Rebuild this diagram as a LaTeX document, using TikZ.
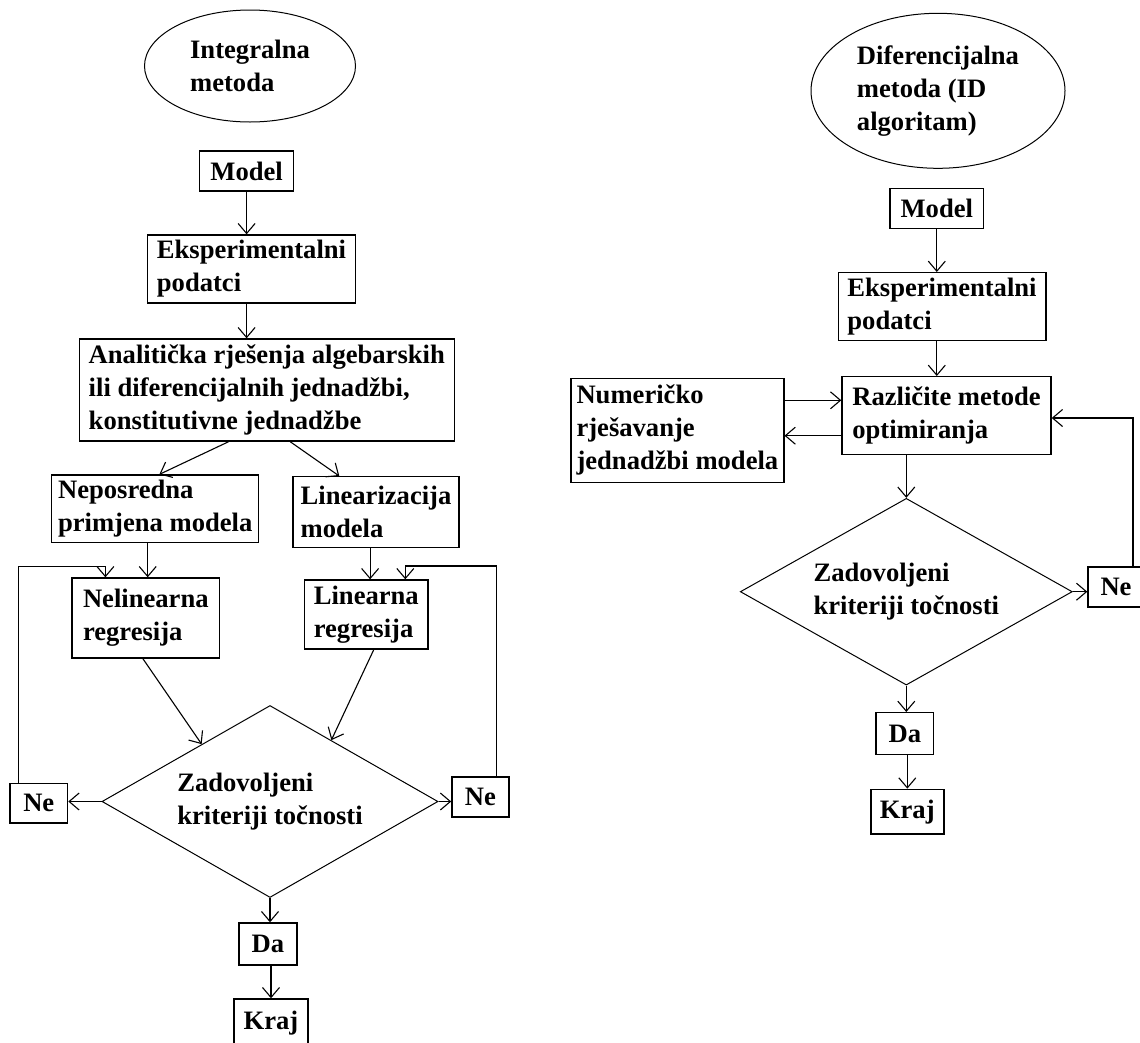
\documentclass[tikz,border=0pt]{standalone}
\usepackage{fontspec}
\setmainfont{Liberation Serif}
\usetikzlibrary{arrows.meta,shapes.geometric,calc}
\begin{document}
\begin{tikzpicture}[x=1pt,y=-1pt,
  every node/.style={font=\fontsize{26.6}{33}\selectfont\bfseries},
  bx/.style n args={2}{draw,line width=1.4pt,rectangle,inner sep=0pt,align=left,minimum width=#1,minimum height=#2},
  ell/.style={draw,ellipse,line width=1pt,inner sep=0pt,align=left},
  dia/.style={draw,diamond,aspect=1.75,line width=1pt,inner sep=0pt,align=left},
  arr/.style={line width=1.1pt,-{Straight Barb[length=10pt,width=17pt,line width=1.1pt]}}]
\fill[white] (0,0) rectangle (1140,1042);
\useasboundingbox (0,0) rectangle (1140,1042);
% ---------- left chart ----------
\node[ell,minimum width=211pt,minimum height=112pt] (eL) at (250,66) {Integralna\\metoda};
\node[bx={94pt}{40pt}] (mL) at (246.6,171) {Model};
\node[bx={208pt}{68pt}] (eksL) at (251.5,269) {Eksperimentalni\\podatci};
\node[bx={375pt}{102pt}] (an) at (266.8,390) {Analitička rješenja algebarskih\\ili diferencijalnih jednadžbi,\\konstitutivne jednadžbe};
\node[bx={207pt}{67.5pt}] (nep) at (155.2,508.8) {Neposredna\\primjena modela};
\node[bx={166pt}{70.5pt}] (lin) at (376,512) {Linearizacija\\modela};
\node[bx={147.6pt}{80pt}] (nel) at (145.8,618) {Nelinearna\\regresija};
\node[bx={123.3pt}{69pt}] (lr) at (366.3,614.5) {Linearna\\regresija};
\node[dia,minimum width=336pt,minimum height=192pt] (dL) at (270,801.5) {Zadovoljeni\\kriteriji točnosti};
\node[bx={57.6pt}{39.3pt}] (neL) at (38.8,803.4) {Ne};
\node[bx={57pt}{40pt}] (neR) at (480.4,797) {Ne};
\node[bx={58pt}{42pt}] (daL) at (268,944) {Da};
\node[bx={74pt}{48pt}] (krL) at (271,1023) {Kraj};

\draw[arr] (mL.south) -- (mL.south |- eksL.north);
\draw[arr] (mL.south |- eksL.south) -- (mL.south |- an.north);
\draw[arr] ($(an.south west)+(150,0)$) -- ($(nep.north west)+(108.4,0)$);
\draw[arr] ($(an.south west)+(211.6,0)$) -- ($(lin.north west)+(47,0)$);
\coordinate (c1) at ($(nep.south west)+(96.7,0)$);
\draw[arr] (c1) -- (c1 |- nel.north);
\coordinate (c2) at ($(lin.south west)+(77.8,0)$);
\draw[arr] (c2) -- (c2 |- lr.north);
\draw[arr] ($(nel.south west)+(71.6,0)$) -- (dL.140);
\draw[arr] ($(lr.south west)+(69.8,0)$) -- (dL.45);
\draw[arr] (dL.west) -- (dL.west -| neL.east);
\draw[arr] (dL.east) -- (dL.east -| neR.west);
\coordinate (cL1) at (18.9,566.7);
\coordinate (cL2) at (105.4,566.7);
\draw[arr] (neL.north -| cL1) -- (cL1) -| (nel.north -| cL2);
\coordinate (cR1) at (496.9,566);
\coordinate (cR2) at (405.3,566);
\draw[arr] (neR.north -| cR1) -- (cR1) -| (lr.north -| cR2);
\draw[arr] (dL.south) -- (dL.south |- daL.north);
\draw[arr] (daL.south -| krL.north) -- (krL.north);

% ---------- right chart ----------
\node[ell,minimum width=254pt,minimum height=155pt] (eR) at (938,90.8) {Diferencijalna\\metoda (ID\\algoritam)};
\node[bx={93.6pt}{40.4pt}] (mR) at (936.8,208.5) {Model};
\node[bx={207.6pt}{68pt}] (eksR) at (942,306.7) {Eksperimentalni\\podatci};
\node[bx={209pt}{77.6pt}] (raz) at (946.5,415.5) {Različite metode\\optimiranja};
\node[bx={212.8pt}{104pt}] (num) at (677.4,430.3) {Numeričko\\rješavanje\\jednadžbi modela};
\node[dia,minimum width=332pt,minimum height=186.7pt] (dR) at (906.3,591.7) {Zadovoljeni\\kriteriji točnosti};
\node[bx={56pt}{40pt}] (neRR) at (1116,587) {Ne};
\node[bx={57.6pt}{41.6pt}] (daR) at (904.8,733.5) {Da};
\node[bx={73pt}{44.7pt}] (krR) at (907.3,811.7) {Kraj};

\draw[arr] (mR.south) -- (mR.south |- eksR.north);
\draw[arr] (mR.south |- eksR.south) -- (mR.south |- raz.north);
\coordinate (c3) at ($(num.north east)+(0,22.7)$);
\draw[arr] (c3) -- (c3 -| raz.west);
\coordinate (c4) at ($(raz.south west)+(0,-19.3)$);
\draw[arr] (c4) -- (c4 -| num.east);
\draw[arr] (dR.north |- raz.south) -- (dR.north);
\draw[arr] (dR.east) -- (dR.east -| neRR.west);
\coordinate (cR) at (1133,418);
\draw[arr] (neRR.north -| cR) -- (cR) -- (cR -| raz.east);
\draw[arr] (dR.south) -- (dR.south |- daR.north);
\draw[arr] (daR.south -| krR.north) -- (krR.north);
\end{tikzpicture}
\end{document}
